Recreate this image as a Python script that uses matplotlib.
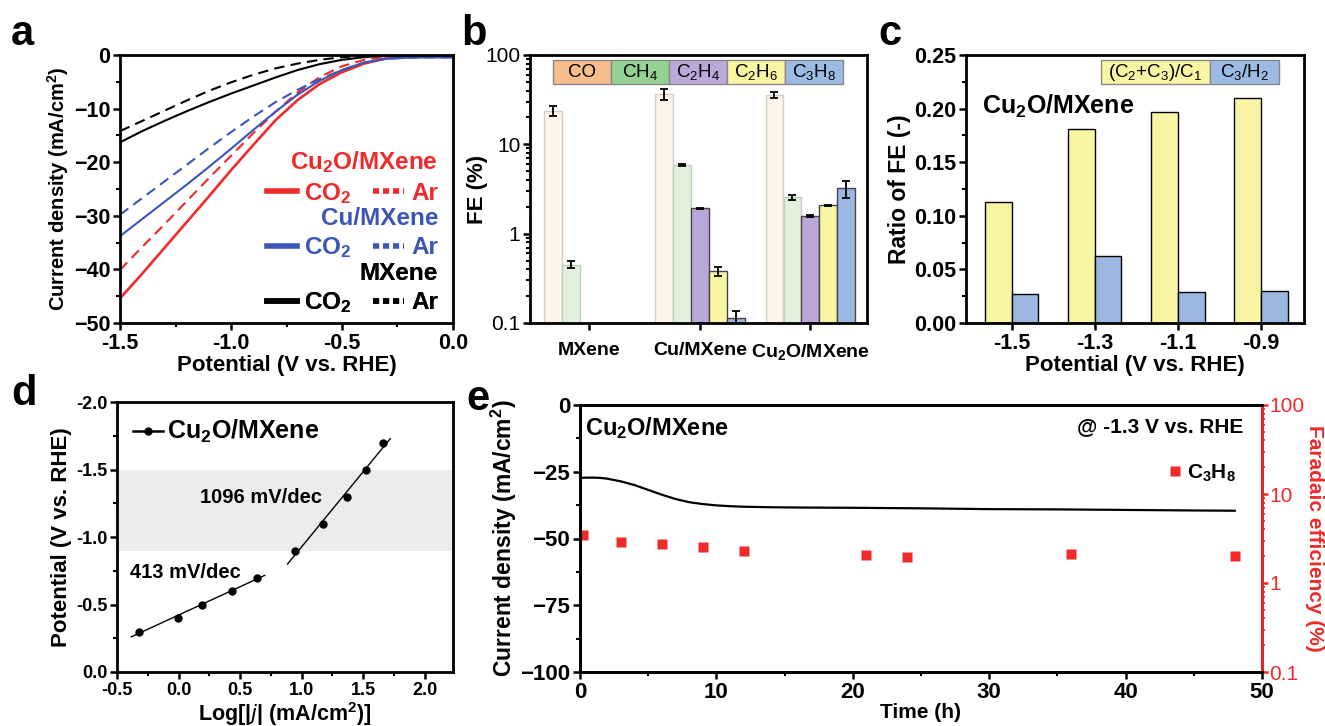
import numpy as np
import matplotlib.pyplot as plt
from matplotlib.lines import Line2D
from matplotlib.ticker import MultipleLocator, LogLocator, NullFormatter, FuncFormatter

plt.rcParams['font.family'] = ['Liberation Sans', 'DejaVu Sans']
plt.rcParams['mathtext.default'] = 'regular'
plt.rcParams['axes.linewidth'] = 2.0

RED = '#ee2a2a'
BLUE = '#3b55b8'

# ---- a: polarisation curves ----
V_A = [-1.5, -1.4, -1.3, -1.2, -1.1, -1.0, -0.9, -0.8, -0.7, -0.6, -0.5, -0.4, -0.3, -0.2, -0.1, 0.0]
CU2O_CO2 = [-45.4, -40.8, -36.0, -31.2, -26.4, -21.5, -16.8, -12.2, -8.4, -5.4, -3.2, -1.6, -0.6, -0.2, -0.1, -0.1]
CU2O_AR = [-40.1, -35.8, -31.6, -27.3, -23.0, -18.8, -14.6, -10.6, -7.0, -4.1, -2.1, -0.9, -0.3, -0.1, 0.0, 0.0]
CU_CO2 = [-33.8, -30.6, -27.4, -24.2, -20.9, -17.5, -14.0, -10.6, -7.4, -4.8, -2.8, -1.4, -0.7, -0.5, -0.45, -0.45]
CU_AR = [-29.8, -26.7, -23.6, -20.5, -17.4, -14.4, -11.5, -8.8, -6.5, -4.5, -2.8, -1.4, -0.7, -0.5, -0.45, -0.45]
MX_CO2 = [-16.3, -14.2, -12.3, -10.5, -8.8, -7.2, -5.7, -4.2, -2.8, -1.7, -0.9, -0.4, -0.1, 0.0, 0.0, 0.0]
MX_AR = [-14.2, -12.3, -10.4, -8.5, -6.7, -5.1, -3.7, -2.5, -1.6, -0.9, -0.4, -0.2, 0.0, 0.0, 0.0, 0.0]

# ---- b: faradaic efficiency per product ----
SAMPLES = ['MXene', 'Cu/MXene', 'Cu$_2$O/MXene']
PRODUCTS = ['CO', 'CH$_4$', 'C$_2$H$_4$', 'C$_2$H$_6$', 'C$_3$H$_8$']
FE_CO = [23.7, 36.7, 35.8]
FE_CH4 = [0.45, 5.8, 2.55]
FE_C2H4 = [np.nan, 1.92, 1.58]
FE_C2H6 = [np.nan, 0.38, 2.09]
FE_C3H8 = [np.nan, 0.115, 3.23]
ERR_CO = [3.0, 5.0, 2.8]
ERR_CH4 = [0.04, 0.15, 0.15]
ERR_C2H4 = [np.nan, 0.02, 0.03]
ERR_C2H6 = [np.nan, 0.04, 0.03]
ERR_C3H8 = [np.nan, 0.02, 0.7]
BAR_FACE = ['#fdf4ea', '#e1f1de', '#b9a7d7', '#f8f5a3', '#9ab8e2']
BAR_EDGE = ['#d8cdc2', '#bfcfbc', '#444444', '#444444', '#444444']
LEG_FACE = ['#f6bd8d', '#93d293', '#bba9d9', '#f8f5a3', '#9cbbe4']

# ---- c: ratios ----
POT_C = ['-1.5', '-1.3', '-1.1', '-0.9']
RATIO_C23_C1 = [0.113, 0.181, 0.197, 0.210]
RATIO_C3_H2 = [0.0266, 0.0625, 0.0288, 0.0298]

# ---- d: Tafel ----
LOGJ = [-0.324, -0.005, 0.19, 0.432, 0.64, 0.946, 1.176, 1.37, 1.524, 1.66]
POT_D = [-0.3, -0.4, -0.5, -0.6, -0.7, -0.9, -1.1, -1.3, -1.5, -1.7]

# ---- e: stability ----
T_J = [0, 0.5, 1, 1.5, 2, 3, 4, 5, 6, 7, 8, 9, 10, 11, 12, 14, 16, 20, 25, 30, 35, 40, 45, 48]
J_E = [-27.3, -27.2, -27.2, -27.3, -27.6, -28.6, -30.0, -31.8, -33.6, -35.2, -36.4, -37.1, -37.6, -37.9, -38.1,
       -38.3, -38.4, -38.5, -38.7, -39.0, -39.1, -39.3, -39.5, -39.6]
T_FE = [0.25, 3, 6, 9, 12, 21, 24, 36, 48]
FE_E = [3.46, 2.86, 2.74, 2.56, 2.31, 2.08, 1.95, 2.12, 2.01]


def style_ax(ax, size=15):
    ax.tick_params(direction='out', width=1.8, length=5, labelsize=size, pad=2)
    ax.tick_params(which='minor', direction='out', width=1.5, length=3)
    for lab in ax.get_xticklabels() + ax.get_yticklabels():
        lab.set_fontweight('bold')


fig = plt.figure(figsize=(13.25, 7.26), dpi=100)
W, H = 1325.0, 726.0


def axes_px(x0, x1, y0, y1):
    return fig.add_axes([x0 / W, 1 - y1 / H, (x1 - x0) / W, (y1 - y0) / H])


# ================= a =================
ax = axes_px(120, 453, 55, 323)
ax.plot(V_A, CU2O_CO2, color=RED, lw=1.9)
ax.plot(V_A, CU2O_AR, color=RED, lw=1.5, ls=(0, (5, 3)))
ax.plot(V_A, CU_CO2, color=BLUE, lw=1.5)
ax.plot(V_A, CU_AR, color=BLUE, lw=1.5, ls=(0, (5, 3)))
ax.plot(V_A, MX_CO2, color='black', lw=1.5)
ax.plot(V_A, MX_AR, color='black', lw=1.5, ls=(0, (5, 3)))
ax.set_xlim(-1.5, 0.0)
ax.set_ylim(-50, 0)
ax.xaxis.set_major_locator(MultipleLocator(0.5))
ax.xaxis.set_minor_locator(MultipleLocator(0.25))
ax.yaxis.set_major_locator(MultipleLocator(10))
ax.yaxis.set_minor_locator(MultipleLocator(5))
ax.xaxis.set_major_formatter(FuncFormatter(lambda v, p: f'{v:.1f}'))
style_ax(ax, 15.5)
ax.set_xlabel('Potential (V vs. RHE)', fontsize=16, fontweight='bold', labelpad=1)
ax.set_ylabel('Current density (mA/cm$^2$)', fontsize=14.5, fontweight='bold', labelpad=2)

groups = [('Cu$_2$O/MXene', RED, 0.648), ('Cu/MXene', BLUE, 0.434), ('MXene', 'black', 0.228)]
for name, col, ytop in groups:
    hs = [Line2D([], [], color=col, lw=4), Line2D([], [], color=col, lw=4, ls=(0, (1.1, 0.7)))]
    lg = ax.legend(hs, ['CO$_2$', 'Ar'], ncol=2, title=name, loc='upper right',
                   bbox_to_anchor=(0.955, ytop), frameon=False, handlelength=1.25,
                   handletextpad=0.3, columnspacing=0.9, borderpad=0, borderaxespad=0,
                   labelspacing=0.0, alignment='right',
                   prop={'size': 17.5, 'weight': 'bold'}, labelcolor=col,
                   title_fontproperties={'size': 17.5, 'weight': 'bold'})
    lg.get_title().set_color(col)
    lg._legend_box.sep = 4
    ax.add_artist(lg)

# ================= b =================
ax = axes_px(530, 867, 55, 323)
xg = np.arange(len(SAMPLES))
bw = 0.161
series = [(FE_CO, ERR_CO), (FE_CH4, ERR_CH4), (FE_C2H4, ERR_C2H4), (FE_C2H6, ERR_C2H6), (FE_C3H8, ERR_C3H8)]
for i, (vals, errs) in enumerate(series):
    xi = xg + (i - 2) * 0.1625
    ax.bar(xi, vals, width=bw, color=BAR_FACE[i], edgecolor=BAR_EDGE[i], lw=1.0, zorder=2)
    ax.errorbar(xi, vals, yerr=errs, fmt='none', ecolor='black', elinewidth=1.3, capsize=3,
                capthick=1.3, zorder=3)
ax.set_yscale('log')
ax.set_ylim(0.1, 100)
ax.set_xlim(-0.536, 2.512)
ax.set_xticks(xg)
ax.set_xticklabels(SAMPLES)
ax.yaxis.set_major_formatter(FuncFormatter(lambda v, p: f'{v:g}'))
ax.yaxis.set_minor_locator(LogLocator(base=10, subs=np.arange(2, 10)))
ax.yaxis.set_minor_formatter(NullFormatter())
style_ax(ax, 14)
for lab in ax.get_yticklabels():
    lab.set_fontweight('normal')
    lab.set_fontsize(15)
ax.tick_params(axis='x', pad=9)
ax.set_ylabel('FE (%)', fontsize=16, fontweight='bold', labelpad=-2)
tb = ax.table(cellText=[PRODUCTS], cellColours=[LEG_FACE], cellLoc='center',
              bbox=[0.068, 0.892, 0.861, 0.089])
tb.auto_set_font_size(False)
for cell in tb.get_celld().values():
    cell.set_edgecolor('#888888')
    cell.set_linewidth(1.0)
    cell.get_text().set_fontsize(13.5)

# ================= c =================
ax = axes_px(966, 1304, 55, 323)
xc = np.arange(len(POT_C))
ax.bar(xc - 0.16, RATIO_C23_C1, width=0.32, color='#f8f5a3', edgecolor='black', lw=1.0)
ax.bar(xc + 0.16, RATIO_C3_H2, width=0.32, color='#9ab8e2', edgecolor='black', lw=1.0)
ax.set_xlim(-0.548, 3.516)
ax.set_ylim(0, 0.25)
ax.set_xticks(xc)
ax.set_xticklabels(POT_C)
ax.yaxis.set_major_locator(MultipleLocator(0.05))
ax.yaxis.set_minor_locator(MultipleLocator(0.025))
ax.yaxis.set_major_formatter(FuncFormatter(lambda v, p: f'{v:.2f}'))
style_ax(ax, 15.5)
ax.set_xlabel('Potential (V vs. RHE)', fontsize=16, fontweight='bold', labelpad=1)
ax.set_ylabel('Ratio of FE (-)', fontsize=16.5, fontweight='bold', labelpad=2)
ax.text(0.047, 0.81, 'Cu$_2$O/MXene', transform=ax.transAxes, fontsize=18, fontweight='bold',
        va='center', ha='left')
tc = ax.table(cellText=[['(C$_2$+C$_3$)/C$_1$', 'C$_3$/H$_2$']], cellColours=[['#f8f5a3', '#9cbbe4']],
              cellLoc='center', colWidths=[0.61, 0.39], bbox=[0.40, 0.892, 0.526, 0.089])
tc.auto_set_font_size(False)
for cell in tc.get_celld().values():
    cell.set_edgecolor('#888888')
    cell.get_text().set_fontsize(13.5)

# ================= d =================
ax = axes_px(117, 453, 402, 672)
ax.axhspan(-0.9, -1.5, color='#ececec', lw=0, zorder=0)
ax.plot(LOGJ, POT_D, 'o', color='black', ms=5, zorder=3)
lx, ly = np.array(LOGJ), np.array(POT_D)
for sl in (slice(0, 5), slice(5, 10)):
    k, b = np.polyfit(lx[sl], ly[sl], 1)
    xs = np.array([lx[sl][0] - 0.06, lx[sl][-1] + 0.06])
    ax.plot(xs, k * xs + b, color='black', lw=1.0, zorder=2)
ax.set_xlim(-0.5, 2.23)
ax.set_ylim(0.0, -2.0)
ax.xaxis.set_major_locator(MultipleLocator(0.5))
ax.xaxis.set_minor_locator(MultipleLocator(0.25))
ax.yaxis.set_major_locator(MultipleLocator(0.5))
ax.yaxis.set_minor_locator(MultipleLocator(0.25))
ax.xaxis.set_major_formatter(FuncFormatter(lambda v, p: f'{v:.1f}'))
ax.yaxis.set_major_formatter(FuncFormatter(lambda v, p: f'{v:.1f}'))
style_ax(ax, 13)
ax.set_xlabel('Log[|$\\it{j}$| (mA/cm$^2$)]', fontsize=15.5, fontweight='bold', labelpad=1)
ax.set_ylabel('Potential (V vs. RHE)', fontsize=16, fontweight='bold', labelpad=3)
ax.legend([Line2D([], [], color='black', marker='o', ms=5, lw=1.8)], ['Cu$_2$O/MXene'],
          loc='upper left', frameon=False, handlelength=1.2, handletextpad=0.15,
          borderaxespad=0.25, prop={'size': 18, 'weight': 'bold'})
ax.text(0.247, 0.648, '1096 mV/dec', transform=ax.transAxes, fontsize=14.5, fontweight='bold',
        va='center', ha='left')
ax.text(0.04, 0.37, '413 mV/dec', transform=ax.transAxes, fontsize=14.5, fontweight='bold',
        va='center', ha='left')

# ================= e =================
ax = axes_px(580, 1262, 405, 672)
ax.plot(T_J, J_E, color='black', lw=1.6)
ax.set_xlim(0, 50)
ax.set_ylim(-100, 0)
ax.xaxis.set_major_locator(MultipleLocator(10))
ax.xaxis.set_minor_locator(MultipleLocator(5))
ax.yaxis.set_major_locator(MultipleLocator(25))
ax.yaxis.set_minor_locator(MultipleLocator(12.5))
style_ax(ax, 16)
ax.set_xlabel('Time (h)', fontsize=15, fontweight='bold', labelpad=0)
ax.set_ylabel('Current density (mA/cm$^2$)', fontsize=16.5, fontweight='bold', labelpad=1)
ax.text(0.008, 0.915, 'Cu$_2$O/MXene', transform=ax.transAxes, fontsize=17, fontweight='bold',
        va='center', ha='left')
ax.text(0.972, 0.918, '@ -1.3 V vs. RHE', transform=ax.transAxes, fontsize=15, fontweight='bold',
        va='center', ha='right')

ax2 = ax.twinx()
ax2.plot(T_FE, FE_E, 's', color=RED, ms=7.5, mec='none', label='C$_3$H$_8$')
ax2.set_yscale('log')
ax2.set_ylim(0.1, 100)
ax2.yaxis.set_major_formatter(FuncFormatter(lambda v, p: f'{v:g}'))
ax2.yaxis.set_minor_locator(LogLocator(base=10, subs=np.arange(2, 10)))
ax2.yaxis.set_minor_formatter(NullFormatter())
ax2.tick_params(axis='y', colors=RED, direction='out', width=1.8, length=4, labelsize=15, pad=1)
ax2.tick_params(axis='y', which='minor', colors=RED, direction='out', width=1.3, length=2.5)
ax2.spines['right'].set_color(RED)
ax2.set_ylabel('Faradaic efficiency (%)', fontsize=15, fontweight='bold', color=RED,
               rotation=270, labelpad=14)
ax2.legend(loc='upper right', bbox_to_anchor=(0.99, 0.855), frameon=False, handlelength=0.6,
           handletextpad=0.3, markerscale=1.0, prop={'size': 15, 'weight': 'bold'})

# panel letters (baseline placed)
for letter, xp, yp in [('a', 11, 45), ('b', 461, 45), ('c', 878, 45), ('d', 11, 405), ('e', 466, 410)]:
    fig.text(xp / W, 1 - yp / H, letter, fontsize=30, fontweight='bold', va='baseline', ha='left')

fig.savefig('out.png', dpi=100)
